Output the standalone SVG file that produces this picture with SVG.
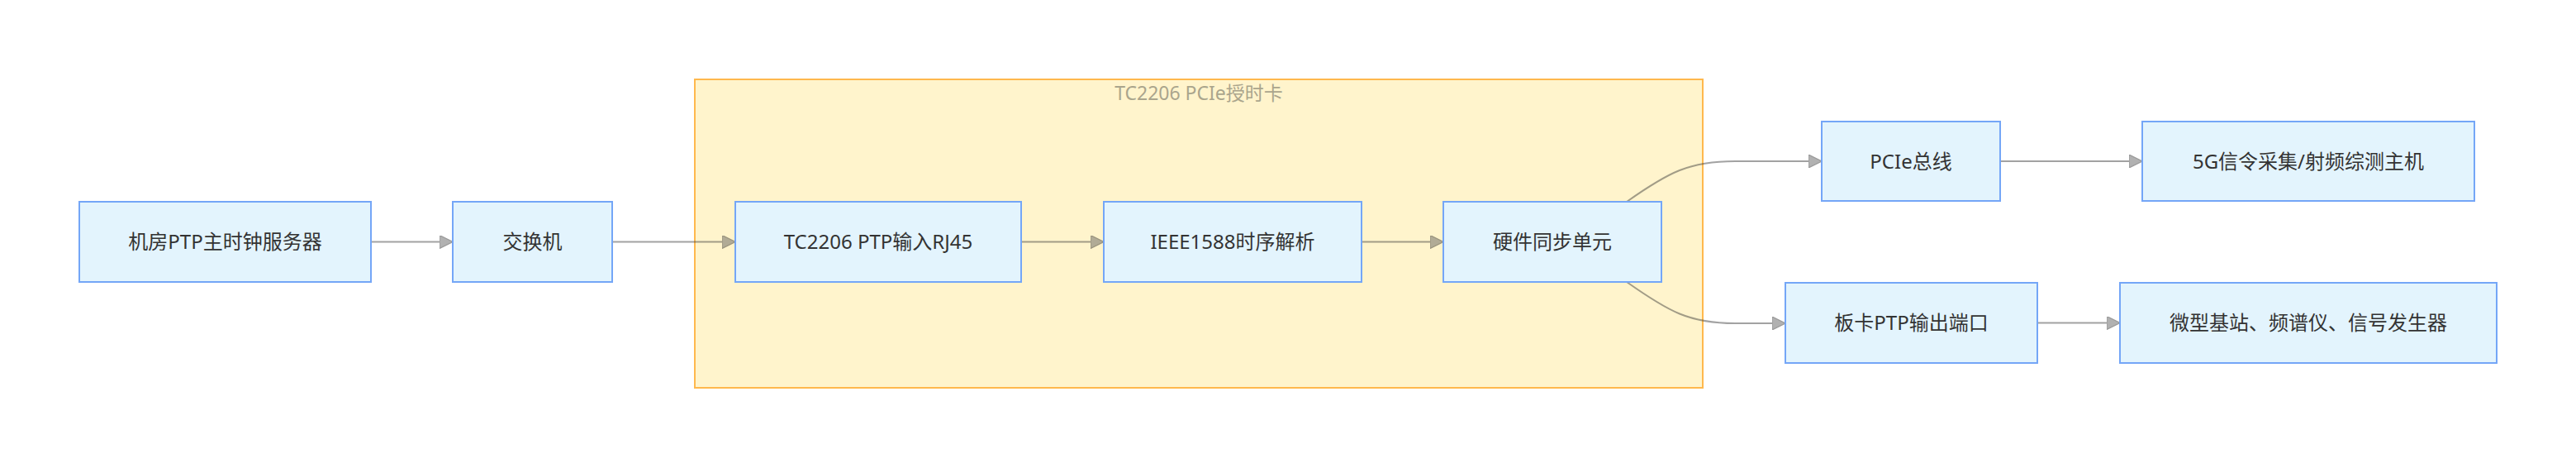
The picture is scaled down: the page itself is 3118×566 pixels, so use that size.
<svg xmlns="http://www.w3.org/2000/svg" width="3118" height="566" viewBox="0 0 3118 566">
<style>
.node rect{fill:#e3f4fd;stroke:#74a6f7;stroke-width:2}
.node text{font-family:"Noto Sans","Noto Sans CJK SC",sans-serif;font-size:24px;fill:#333;text-anchor:middle}
.cluster rect{fill:#fff4cc;stroke:#ffb84d;stroke-width:2}
.cluster text{font-family:"Noto Sans","Noto Sans CJK SC",sans-serif;font-size:23px;fill:#aaa58c;text-anchor:middle}
.edge{fill:none;stroke:#333;stroke-width:2;marker-end:url(#arrow)}
</style>
<defs>
<marker id="arrow" viewBox="0 0 10 10" refX="10" refY="5" markerWidth="16" markerHeight="16" markerUnits="userSpaceOnUse" orient="auto">
<path d="M0,0 L10,5 L0,10 z" fill="#555" stroke="#222" stroke-width="0.8"/>
</marker>
</defs>
<rect width="3118" height="566" fill="#ffffff"/>
<g id="cluster-tc2206" class="cluster">
<rect x="841" y="96" width="1220" height="373"/>
<text x="1451" y="121">TC2206 PCIe授时卡</text>
</g>
<g id="connectors" opacity="0.45">
<path class="edge" d="M449,292.5 L548,292.5"/>
<path class="edge" d="M741,292.5 L890,292.5"/>
<path class="edge" d="M1236,292.5 L1336,292.5"/>
<path class="edge" d="M1648,292.5 L1747,292.5"/>
<path class="edge" d="M1969,244 C2020,208 2045,195 2100,195 L2205,195"/>
<path class="edge" d="M1969,341 C2020,377 2045,391 2100,391 L2161,391"/>
<path class="edge" d="M2421,195 L2593,195"/>
<path class="edge" d="M2466,390.5 L2566,390.5"/>
</g>
<g id="node-server" class="node"><rect x="96" y="244" width="353" height="97"/><text x="272.5" y="301">机房PTP主时钟服务器</text></g>
<g id="node-switch" class="node"><rect x="548" y="244" width="193" height="97"/><text x="644.5" y="301">交换机</text></g>
<g id="node-rj45" class="node"><rect x="890" y="244" width="346" height="97"/><text x="1063" y="301">TC2206 PTP输入RJ45</text></g>
<g id="node-ieee" class="node"><rect x="1336" y="244" width="312" height="97"/><text x="1492" y="301">IEEE1588时序解析</text></g>
<g id="node-sync" class="node"><rect x="1747" y="244" width="264" height="97"/><text x="1879" y="301">硬件同步单元</text></g>
<g id="node-pcie" class="node"><rect x="2205" y="147" width="216" height="96"/><text x="2313" y="203.5">PCIe总线</text></g>
<g id="node-host" class="node"><rect x="2593" y="147" width="402" height="96"/><text x="2794" y="203.5">5G信令采集/射频综测主机</text></g>
<g id="node-out" class="node"><rect x="2161" y="342" width="305" height="97"/><text x="2313.5" y="399">板卡PTP输出端口</text></g>
<g id="node-devices" class="node"><rect x="2566" y="342" width="456" height="97"/><text x="2794" y="399">微型基站、频谱仪、信号发生器</text></g>
</svg>
